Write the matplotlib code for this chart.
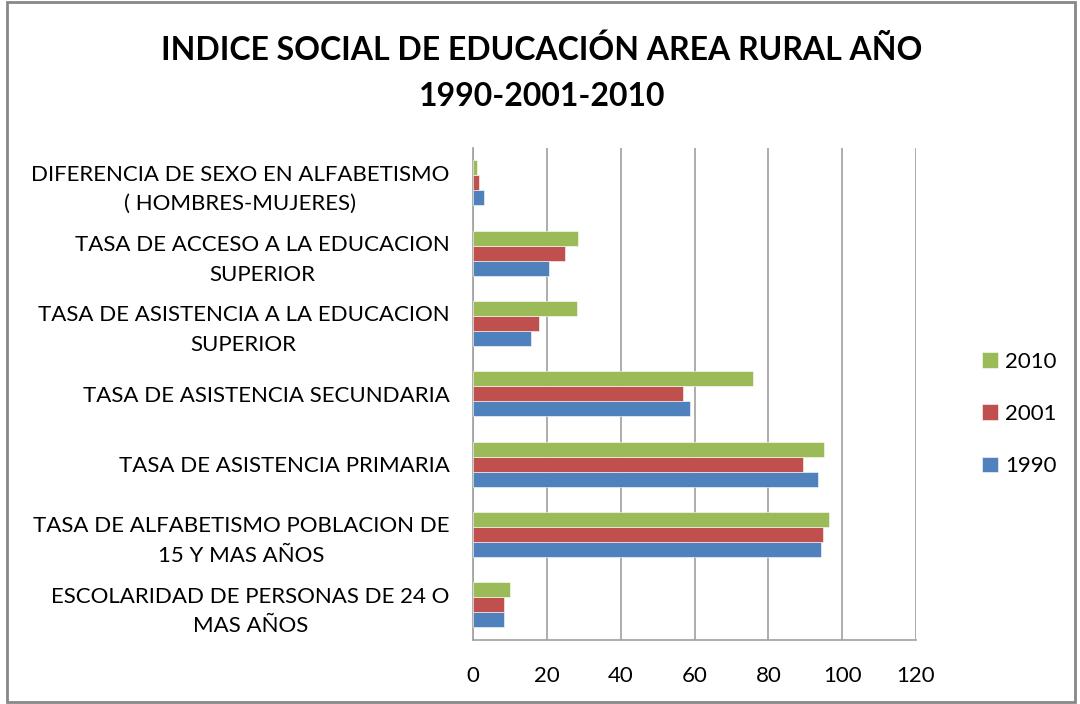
import matplotlib
matplotlib.use("Agg")
import matplotlib.pyplot as plt
import matplotlib.transforms as mtransforms
import numpy as np
from matplotlib.patches import Rectangle

categories = [
    "ESCOLARIDAD DE PERSONAS DE 24 O\nMAS AÑOS",
    "TASA DE ALFABETISMO POBLACION DE\n15 Y MAS AÑOS",
    "TASA DE ASISTENCIA PRIMARIA",
    "TASA DE ASISTENCIA SECUNDARIA",
    "TASA DE ASISTENCIA A LA EDUCACION\nSUPERIOR",
    "TASA DE ACCESO A LA EDUCACION\nSUPERIOR",
    "DIFERENCIA DE SEXO EN ALFABETISMO\n( HOMBRES-MUJERES)",
]
v1990 = [8.4, 94.4, 93.4, 58.7, 15.8, 20.7, 2.9]
v2001 = [8.4, 94.8, 89.5, 57.0, 17.9, 25.0, 1.5]
v2010 = [9.9, 96.5, 95.1, 75.9, 28.1, 28.4, 1.1]
series_labels = ["1990", "2001", "2010"]
colors = ["#4F81BD", "#C0504D", "#9BBB59"]
xticks = [0, 20, 40, 60, 80, 100, 120]

plt.rcParams['font.family'] = ['Lato', 'DejaVu Sans']

fig = plt.figure(figsize=(10.8, 7.04), dpi=100)
ax = fig.add_axes([473/1080, 1-640/704, (916-473)/1080, (640-147.5)/704])

y = np.arange(len(categories))
h = 0.213
bars = []
for i, (vals, lab, c) in enumerate(zip([v1990, v2001, v2010], series_labels, colors)):
    b = ax.barh(y + (i - 1) * h, vals, height=h, color=c, label=lab,
                edgecolor='white', linewidth=0.4, zorder=3)
    bars.append(b)

ax.set_xlim(0, 120)
ax.set_ylim(-0.5, 6.5)
ax.set_xticks(xticks)
ax.set_xticklabels([str(t) for t in xticks], fontsize=16)
ax.set_yticks(y)
ax.set_yticklabels(categories, fontsize=16, linespacing=1.6)
shift_up = mtransforms.ScaledTranslation(0, 5/100, fig.dpi_scale_trans)
for t in ax.get_yticklabels():
    t.set_multialignment('center')
    if "\n" in t.get_text():
        t.set_transform(t.get_transform() + shift_up)
ax.tick_params(axis='both', length=0)
ax.tick_params(axis='y', pad=17)
ax.tick_params(axis='x', pad=19)
ax.grid(axis='x', color='#A0A0A0', linewidth=1.2, zorder=0)
ax.spines['top'].set_visible(False)
ax.spines['right'].set_visible(False)
ax.spines['left'].set_color('#A0A0A0')
ax.spines['bottom'].set_color('#A0A0A0')
ax.spines['left'].set_linewidth(1.2)
ax.spines['bottom'].set_linewidth(1.2)

fig.text(542/1080, 1-50/704, "INDICE SOCIAL DE EDUCACIÓN AREA RURAL AÑO",
         ha='center', va='center', fontsize=23, fontweight='bold')
fig.text(542/1080, 1-97/704, "1990-2001-2010",
         ha='center', va='center', fontsize=23, fontweight='bold')

handles = [bars[2], bars[1], bars[0]]
labels = ["2010", "2001", "1990"]
leg = fig.legend(handles, labels, loc='center left',
                 bbox_to_anchor=(962/1080, 1-414/704), frameon=False,
                 fontsize=16, handlelength=0.7, handleheight=0.7,
                 handletextpad=0.35, labelspacing=1.45)

fig.add_artist(Rectangle((7/1080, 2/704), (1075-7)/1080, (702-2)/704,
                         transform=fig.transFigure, fill=False,
                         edgecolor='#888888', linewidth=2))

fig.savefig("out.png", dpi=100)
